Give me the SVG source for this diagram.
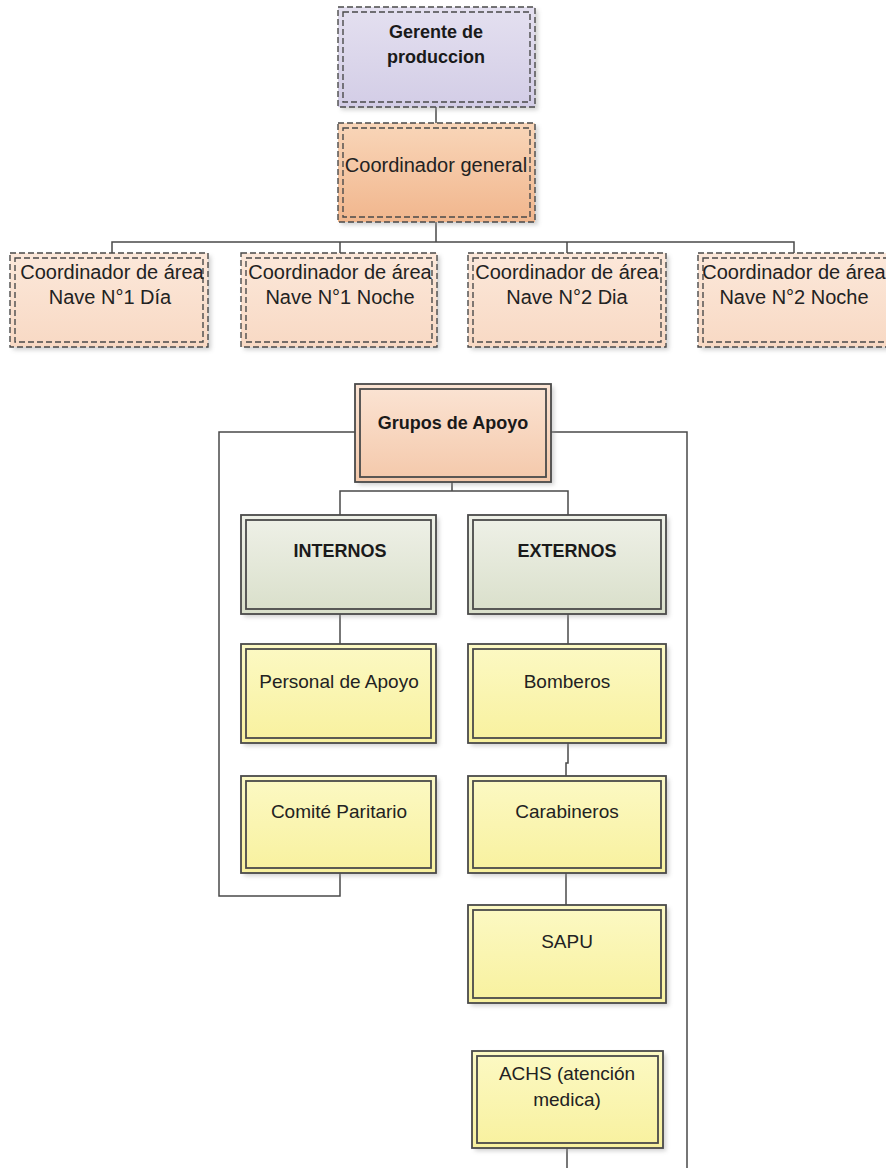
<svg xmlns="http://www.w3.org/2000/svg" width="886" height="1168" viewBox="0 0 886 1168">
<defs>
<linearGradient id="gLav" x1="0" y1="0" x2="0" y2="1"><stop offset="0" stop-color="#e4e0f0"/><stop offset="1" stop-color="#d3cde6"/></linearGradient>
<linearGradient id="gOra" x1="0" y1="0" x2="0" y2="1"><stop offset="0" stop-color="#f9d6b9"/><stop offset="1" stop-color="#f1b68d"/></linearGradient>
<linearGradient id="gPea" x1="0" y1="0" x2="0" y2="1"><stop offset="0" stop-color="#fce8da"/><stop offset="1" stop-color="#f8d9c4"/></linearGradient>
<linearGradient id="gGrp" x1="0" y1="0" x2="0" y2="1"><stop offset="0" stop-color="#fbe4d4"/><stop offset="1" stop-color="#f4c8aa"/></linearGradient>
<linearGradient id="gGrn" x1="0" y1="0" x2="0" y2="1"><stop offset="0" stop-color="#eff1e8"/><stop offset="1" stop-color="#d9dfca"/></linearGradient>
<linearGradient id="gYel" x1="0" y1="0" x2="0" y2="1"><stop offset="0" stop-color="#fcf9c4"/><stop offset="1" stop-color="#f8f19e"/></linearGradient>
<filter id="sh" x="-10%" y="-10%" width="130%" height="130%"><feGaussianBlur stdDeviation="2"/></filter>
</defs>
<style>
.dash{fill:none;stroke:#4a4a4a;stroke-width:1.4;stroke-dasharray:6 3}
.sol{fill:none;stroke:#4a4a4a;stroke-width:1.8}
.shd{fill:#9a9a9a;opacity:0.45;filter:url(#sh)}
.t{font-family:"Liberation Sans",Arial,sans-serif;font-size:20px;fill:#222;text-anchor:middle}
.tl{font-family:"Liberation Sans",Arial,sans-serif;font-size:19px;fill:#222;text-anchor:middle}
.b{font-family:"Liberation Sans",Arial,sans-serif;font-size:18px;font-weight:bold;fill:#1a1a1a;text-anchor:middle}
.c{fill:none;stroke:#4a4a4a;stroke-width:1.5}
</style>
<rect width="886" height="1168" fill="#ffffff"/>
<g id="connectors">
<path class="c" d="M436 107V123"/>
<path class="c" d="M436 222V242M112 253V242H794V253M340 242V253M567 242V253"/>
<path class="c" d="M452 482V491M340 515V491H568V515"/>
<path class="c" d="M355 432H219V896H340V873"/>
<path class="c" d="M551 432H687V1168"/>
<path class="c" d="M340 614V644"/>
<path class="c" d="M568 614V644"/>
<path class="c" d="M568 743V763H566V776"/>
<path class="c" d="M566 873V905"/>
<path class="c" d="M567 1148V1168"/>
</g>
<g id="gerente">
<rect class="shd" x="341" y="10" width="197" height="100"/>
<rect x="338" y="7" width="197" height="100" fill="url(#gLav)"/>
<rect class="dash" x="338" y="7" width="197" height="100"/>
<rect class="dash" x="343" y="12" width="187" height="90"/>
<text class="b" x="436" y="38">Gerente de</text>
<text class="b" x="436" y="63">produccion</text>
</g>
<g id="coord-general">
<rect class="shd" x="341" y="126" width="197" height="99"/>
<rect x="338" y="123" width="197" height="99" fill="url(#gOra)"/>
<rect class="dash" x="338" y="123" width="197" height="99"/>
<rect class="dash" x="343" y="128" width="187" height="89"/>
<text class="t" x="436" y="172">Coordinador general</text>
</g>
<g id="area1">
<rect class="shd" x="13" y="256" width="198" height="94"/>
<rect x="10" y="253" width="198" height="94" fill="url(#gPea)"/>
<rect class="dash" x="10" y="253" width="198" height="94"/>
<rect class="dash" x="15" y="258" width="188" height="84"/>
<text class="t" x="112" y="279">Coordinador de área</text>
<text class="t" x="110" y="304">Nave N°1 Día</text>
</g>
<g id="area2">
<rect class="shd" x="244" y="256" width="196" height="94"/>
<rect x="241" y="253" width="196" height="94" fill="url(#gPea)"/>
<rect class="dash" x="241" y="253" width="196" height="94"/>
<rect class="dash" x="246" y="258" width="186" height="84"/>
<text class="t" x="340" y="279">Coordinador de área</text>
<text class="t" x="340" y="304">Nave N°1 Noche</text>
</g>
<g id="area3">
<rect class="shd" x="471" y="256" width="198" height="94"/>
<rect x="468" y="253" width="198" height="94" fill="url(#gPea)"/>
<rect class="dash" x="468" y="253" width="198" height="94"/>
<rect class="dash" x="473" y="258" width="188" height="84"/>
<text class="t" x="567" y="279">Coordinador de área</text>
<text class="t" x="567" y="304">Nave N°2 Dia</text>
</g>
<g id="area4">
<rect class="shd" x="701" y="256" width="198" height="94"/>
<rect x="698" y="253" width="198" height="94" fill="url(#gPea)"/>
<rect class="dash" x="698" y="253" width="198" height="94"/>
<rect class="dash" x="703" y="258" width="188" height="84"/>
<text class="t" x="794" y="279">Coordinador de área</text>
<text class="t" x="794" y="304">Nave N°2 Noche</text>
</g>
<g id="grupos">
<rect class="shd" x="358" y="387" width="196" height="98"/>
<rect x="355" y="384" width="196" height="98" fill="url(#gGrp)"/>
<rect class="sol" x="355" y="384" width="196" height="98"/>
<rect class="sol" x="360" y="389" width="186" height="88"/>
<text class="b" x="453" y="429">Grupos de Apoyo</text>
</g>
<g id="internos">
<rect class="shd" x="244" y="518" width="195" height="99"/>
<rect x="241" y="515" width="195" height="99" fill="url(#gGrn)"/>
<rect class="sol" x="241" y="515" width="195" height="99"/>
<rect class="sol" x="246" y="520" width="185" height="89"/>
<text class="b" x="340" y="557">INTERNOS</text>
</g>
<g id="externos">
<rect class="shd" x="471" y="518" width="198" height="99"/>
<rect x="468" y="515" width="198" height="99" fill="url(#gGrn)"/>
<rect class="sol" x="468" y="515" width="198" height="99"/>
<rect class="sol" x="473" y="520" width="188" height="89"/>
<text class="b" x="567" y="557">EXTERNOS</text>
</g>
<g id="personal">
<rect class="shd" x="244" y="647" width="195" height="99"/>
<rect x="241" y="644" width="195" height="99" fill="url(#gYel)"/>
<rect class="sol" x="241" y="644" width="195" height="99"/>
<rect class="sol" x="246" y="649" width="185" height="89"/>
<text class="tl" x="339" y="688">Personal de Apoyo</text>
</g>
<g id="comite">
<rect class="shd" x="244" y="779" width="195" height="97"/>
<rect x="241" y="776" width="195" height="97" fill="url(#gYel)"/>
<rect class="sol" x="241" y="776" width="195" height="97"/>
<rect class="sol" x="246" y="781" width="185" height="87"/>
<text class="tl" x="339" y="818">Comité Paritario</text>
</g>
<g id="bomberos">
<rect class="shd" x="471" y="647" width="198" height="99"/>
<rect x="468" y="644" width="198" height="99" fill="url(#gYel)"/>
<rect class="sol" x="468" y="644" width="198" height="99"/>
<rect class="sol" x="473" y="649" width="188" height="89"/>
<text class="tl" x="567" y="688">Bomberos</text>
</g>
<g id="carabineros">
<rect class="shd" x="471" y="779" width="198" height="97"/>
<rect x="468" y="776" width="198" height="97" fill="url(#gYel)"/>
<rect class="sol" x="468" y="776" width="198" height="97"/>
<rect class="sol" x="473" y="781" width="188" height="87"/>
<text class="tl" x="567" y="818">Carabineros</text>
</g>
<g id="sapu">
<rect class="shd" x="471" y="908" width="198" height="98"/>
<rect x="468" y="905" width="198" height="98" fill="url(#gYel)"/>
<rect class="sol" x="468" y="905" width="198" height="98"/>
<rect class="sol" x="473" y="910" width="188" height="88"/>
<text class="tl" x="567" y="948">SAPU</text>
</g>
<g id="achs">
<rect class="shd" x="475" y="1054" width="191" height="97"/>
<rect x="472" y="1051" width="191" height="97" fill="url(#gYel)"/>
<rect class="sol" x="472" y="1051" width="191" height="97"/>
<rect class="sol" x="477" y="1056" width="181" height="87"/>
<text class="tl" x="567" y="1080">ACHS (atención</text>
<text class="tl" x="567" y="1106">medica)</text>
</g>
</svg>
